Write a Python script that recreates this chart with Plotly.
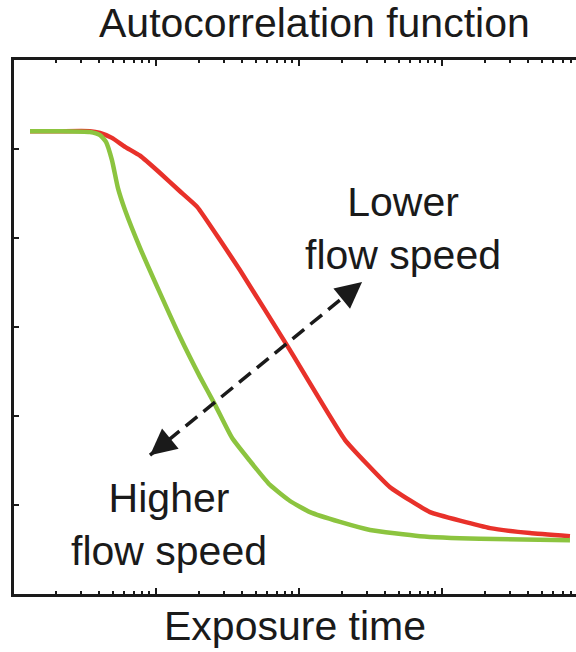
import math
import plotly.graph_objects as go

# ---- data ----
red_x = [1.315e-4, 2.13e-4, 3.45e-4, 4.06e-4, 4.92e-4, 6.07e-4, 7.73e-4, 1.067e-3, 1.47e-3,
         1.94e-3, 3.86e-3, 8.65e-3, 0.0210, 0.0433, 0.0824, 0.217, 0.412, 0.785]
red_y = [1.040, 1.040, 1.040, 1.036, 1.025, 1.005, 0.985, 0.946, 0.905,
         0.870, 0.728, 0.548, 0.346, 0.240, 0.184, 0.148, 0.137, 0.130]

green_x = [1.315e-4, 2.13e-4, 3.45e-4, 4.06e-4, 4.47e-4, 4.92e-4, 5.42e-4, 6.07e-4, 7.73e-4,
           1.067e-3, 1.47e-3, 2.03e-3, 2.59e-3, 3.40e-3, 4.54e-3, 6.27e-3, 8.65e-3, 0.01194,
           0.01936, 0.0314, 0.0702, 0.1845, 0.785]
green_y = [1.040, 1.040, 1.038, 1.031, 1.016, 0.975, 0.912, 0.863, 0.778,
           0.676, 0.578, 0.488, 0.425, 0.351, 0.299, 0.245, 0.209, 0.184,
           0.162, 0.144, 0.130, 0.124, 0.121]

arrow_x = [9.08e-4, 0.0276]
arrow_y = [0.312, 0.701]

x_range_log = [-3.993, -0.063]
y_range = [0, 1.2]
y_ticks = [0.2, 0.4, 0.6, 0.8, 1.0]
x_major = [1e-3, 1e-2, 1e-1]

title_text = "Autocorrelation function"
xlabel_text = "Exposure time"
upper_text = "Lower<br>flow speed"
lower_text = "Higher<br>flow speed"

RED = "#e8312a"
GREEN = "#8cc43f"
INK = "#1a1a1a"
FONT = "Liberation Sans, Arial, Helvetica, sans-serif"

minor_vals = [k * 10 ** n for n in range(-5, 1) for k in range(2, 10)]

fig = go.Figure()
fig.add_trace(go.Scatter(x=red_x, y=red_y, mode="lines",
                         line=dict(color=RED, width=4.5, shape="spline", smoothing=0.35)))
fig.add_trace(go.Scatter(x=green_x, y=green_y, mode="lines",
                         line=dict(color=GREEN, width=4.5, shape="spline", smoothing=0.5)))
fig.add_trace(go.Scatter(x=arrow_x, y=arrow_y, mode="lines",
                         line=dict(color=INK, width=3.5, dash="15px,8px")))

# arrow heads
dx, dy = 212, -173
L = math.hypot(dx, dy)
ux, uy = dx / L, dy / L
head = 18
for i, sgn in [(0, 1), (1, -1)]:
    fig.add_annotation(x=math.log10(arrow_x[i]), y=arrow_y[i], xref="x", yref="y",
                       ax=sgn * ux * head, ay=sgn * uy * head, text="",
                       showarrow=True, arrowhead=2, arrowsize=1.5, arrowwidth=3.5,
                       arrowcolor=INK)

fig.add_annotation(x=0.693, y=0.685, xref="paper", yref="paper", text=upper_text,
                   showarrow=False, font=dict(size=41, color=INK, family=FONT),
                   xanchor="center", yanchor="middle")
fig.add_annotation(x=0.276, y=0.131, xref="paper", yref="paper", text=lower_text,
                   showarrow=False, font=dict(size=41, color=INK, family=FONT),
                   xanchor="center", yanchor="middle")
fig.add_annotation(x=0.535, y=1.069, xref="paper", yref="paper", text=title_text,
                   showarrow=False, font=dict(size=41, color=INK, family=FONT),
                   xanchor="center", yanchor="middle")
fig.add_annotation(x=0.500, y=-0.060, xref="paper", yref="paper", text=xlabel_text,
                   showarrow=False, font=dict(size=41, color=INK, family=FONT),
                   xanchor="center", yanchor="middle")

fig.update_layout(
    width=576, height=652,
    margin=dict(l=14, r=0, t=60, b=58),
    paper_bgcolor="white", plot_bgcolor="white",
    showlegend=False,
    font=dict(family=FONT, color=INK),
)
fig.update_xaxes(type="log", range=x_range_log, showgrid=False, zeroline=False,
                 showline=True, linewidth=3, linecolor=INK, mirror="allticks",
                 tickmode="array", tickvals=x_major, ticks="inside", ticklen=6,
                 tickwidth=2, tickcolor=INK, showticklabels=False,
                 minor=dict(tickmode="array", tickvals=minor_vals, ticks="inside",
                            ticklen=3, tickwidth=2, tickcolor=INK, showgrid=False))
fig.update_yaxes(range=y_range, showgrid=False, zeroline=False,
                 showline=True, linewidth=3, linecolor=INK, mirror=False,
                 tickmode="array", tickvals=y_ticks, ticks="inside", ticklen=5,
                 tickwidth=2, tickcolor=INK, showticklabels=False)

fig.write_html("out.html")
